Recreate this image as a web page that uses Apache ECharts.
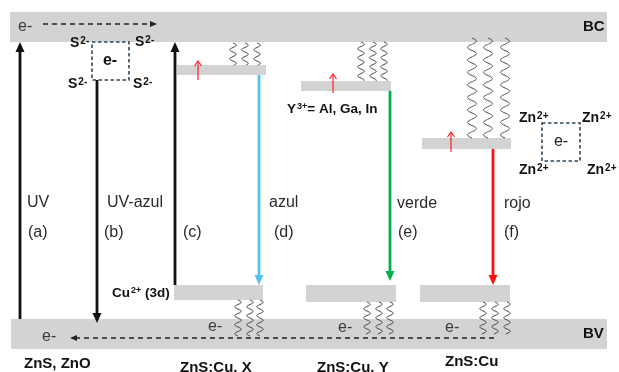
<!DOCTYPE html>
<html><head><meta charset="utf-8">
<script src="https://cdn.jsdelivr.net/npm/echarts@6/dist/echarts.min.js"></script>
<style>html,body{margin:0;padding:0;background:#fff}#c{width:619px;height:372px}</style>
</head><body><div id="c"></div>
<script>
// ---- Diagram data (diagram units: x across, y downward, 0..619 x 0..372) ----
// Bands: [x1, y1, x2, y2]
const bandNames = ['BC', 'BV'];
const bands = [[10, 12, 607, 42], [11, 319, 607, 349]];
// Impurity / activator levels: [x1, y1, x2, y2]
const levelNames = ['X-upper', 'Cu 3d (X)', 'Y-upper', 'Cu 3d (Y)', 'Cu-upper', 'Cu 3d'];
const levels = [
  [177, 65, 266, 75], [174, 285, 263, 300],
  [301, 81, 391, 91], [306, 285, 396, 302],
  [422, 138, 511, 149], [420, 285, 510, 302]
];
// Transitions: [x1, y1, x2, y2] (tail -> tip)
const transitionNames = ['a', 'b', 'c', 'd', 'e', 'f'];
const transitions = [
  [20, 319, 20, 42], [97, 80, 97, 323], [175, 285, 175, 42],
  [259, 75, 259, 285], [390, 91, 390, 281], [493, 149, 493, 285]
];
// Small trap arrows: [x1, y1, x2, y2]
const trapArrows = [[198, 80, 198, 61], [333, 93, 333, 74], [451, 152, 451, 132]];
// Electron migration (dashed): [x1, y1, x2, y2]
const migrations = [[43, 24, 157, 24], [494, 338, 70, 338]];
// Phonon (wavy) lines: [x, yTop, yBottom]
const phononGroups = ['small', 'small', 'small', 'small', 'small', 'small', 'small', 'small', 'small',
  'large', 'large', 'large', 'small', 'small', 'small', 'small', 'small', 'small'];
const phonons = [
  [233, 43, 65], [245, 43, 65], [257, 43, 65],
  [361, 42, 81], [373, 42, 81], [384, 42, 81],
  [238, 300, 336], [250, 300, 336], [260, 300, 336],
  [472, 38, 138], [488, 38, 138], [505, 38, 138],
  [367, 302, 334], [379, 302, 334], [390, 302, 334],
  [483, 302, 334], [495, 302, 334], [507, 302, 334]
];
// Vacancy boxes: [x1, y1, x2, y2]
const vacancies = [[92, 42, 129, 80], [542, 123, 580, 161]];
// Text labels: [x, y]
const labelTexts = ['e-', 'S{sup|2-}', 'S{sup|2-}', 'S{sup|2-}', 'S{sup|2-}', 'e-',
  'BC', 'BV', 'UV', '(a)', 'UV-azul', '(b)', '(c)', 'azul', '(d)', 'verde', '(e)', 'rojo', '(f)',
  'Y{sup|3+}= Al, Ga, In', 'Zn{sup|2+}', 'Zn{sup|2+}', 'Zn{sup|2+}', 'Zn{sup|2+}', 'e-',
  'Cu{sup|2+} (3d)', 'e-', 'e-', 'e-', 'e-',
  'ZnS, ZnO', 'ZnS:Cu, X', 'ZnS:Cu, Y', 'ZnS:Cu'];
const labelKinds = ['e', 'ion', 'ion', 'ion', 'ion', 'eBold',
  'band', 'band', 'tr', 'tr', 'tr', 'tr', 'tr', 'tr', 'tr', 'tr', 'tr', 'tr', 'tr',
  'small', 'ion', 'ion', 'ion', 'ion', 'eCenter',
  'small', 'e', 'e', 'e', 'e',
  'title', 'title', 'title', 'title'];
const labelPos = [
  [18, 27], [70, 43], [135, 42], [68, 84], [133, 84], [110, 61],
  [583, 27], [583, 334], [27, 203], [28, 233], [107, 203], [104, 233], [183, 233], [269, 203], [274, 233],
  [397, 204], [398, 233], [504, 204], [504, 233],
  [287, 109], [519, 118], [582, 118], [519, 170], [587, 170], [561, 142],
  [112, 293], [42, 337], [208, 327], [338, 328], [445, 328],
  [24, 364], [180, 368], [317, 368], [445, 362]
];

// ---- Styles ----
const FONT = '"Liberation Sans", Arial, sans-serif';
const transitionColors = {a: '#111', b: '#111', c: '#111', d: '#55C2F0', e: '#00B050', f: '#FF1010'};
const textStyles = {
  e: {fontSize: 16, fontWeight: 'normal', fill: '#3a3a3a', align: 'left'},
  eBold: {fontSize: 16, fontWeight: 'bold', fill: '#111', align: 'center'},
  eCenter: {fontSize: 16, fontWeight: 'normal', fill: '#222', align: 'center'},
  ion: {fontSize: 14, fontWeight: 'bold', fill: '#111', align: 'left'},
  band: {fontSize: 15, fontWeight: 'bold', fill: '#111', align: 'left'},
  tr: {fontSize: 16, fontWeight: 'normal', fill: '#2a2a2a', align: 'left'},
  small: {fontSize: 13.5, fontWeight: 'bold', fill: '#111', align: 'left'},
  title: {fontSize: 15, fontWeight: 'bold', fill: '#111', align: 'left'}
};
const phononStyle = {small: {amp: 3.3, period: 9}, large: {amp: 4.5, period: 12.5}};

function rectRender(fill) {
  return function (params, api) {
    const p1 = api.coord([api.value(0), api.value(1)]);
    const p2 = api.coord([api.value(2), api.value(3)]);
    return {type: 'rect', shape: {x: Math.min(p1[0], p2[0]), y: Math.min(p1[1], p2[1]),
      width: Math.abs(p2[0] - p1[0]), height: Math.abs(p2[1] - p1[1])}, style: {fill: fill}};
  };
}
function arrowRender(getColor, opts) {
  return function (params, api) {
    const a = api.coord([api.value(0), api.value(1)]);
    const b = api.coord([api.value(2), api.value(3)]);
    const dx = b[0] - a[0], dy = b[1] - a[1], L = Math.hypot(dx, dy);
    const ux = dx / L, uy = dy / L, px = -uy, py = ux;
    const base = [b[0] - ux * opts.hl, b[1] - uy * opts.hl];
    const color = getColor(params.dataIndex);
    const l = [base[0] + px * opts.hw / 2, base[1] + py * opts.hw / 2];
    const r = [base[0] - px * opts.hw / 2, base[1] - py * opts.hw / 2];
    const end = opts.open ? b : [base[0] + ux * 1, base[1] + uy * 1];
    const children = [{type: 'line', shape: {x1: a[0], y1: a[1], x2: end[0], y2: end[1]},
      style: {stroke: color, lineWidth: opts.lw, lineDash: opts.dash || null}}];
    if (opts.open) {
      children.push({type: 'polyline', shape: {points: [l, b, r]}, style: {stroke: color, lineWidth: opts.lw, fill: null}});
    } else {
      children.push({type: 'polygon', shape: {points: [l, b, r]}, style: {fill: color}});
    }
    return {type: 'group', children: children};
  };
}
function phononRender(params, api) {
  const top = api.coord([api.value(0), api.value(1)]);
  const bot = api.coord([api.value(0), api.value(2)]);
  const st = phononStyle[phononGroups[params.dataIndex]];
  const pts = [];
  for (let y = top[1]; y <= bot[1]; y += 0.5) {
    pts.push([top[0] + st.amp * Math.sin((y - top[1]) / st.period * 2 * Math.PI), y]);
  }
  return {type: 'polyline', shape: {points: pts}, style: {stroke: '#4a4a4a', lineWidth: 1, fill: null}};
}
function boxRender(params, api) {
  const p1 = api.coord([api.value(0), api.value(1)]);
  const p2 = api.coord([api.value(2), api.value(3)]);
  return {type: 'rect', shape: {x: p1[0], y: p1[1], width: p2[0] - p1[0], height: p2[1] - p1[1]},
    style: {fill: null, stroke: '#2F4858', lineWidth: 1.6, lineDash: [3.5, 2.5]}};
}
function textRender(params, api) {
  const p = api.coord([api.value(0), api.value(1)]);
  const s = textStyles[labelKinds[params.dataIndex]];
  return {type: 'text', x: p[0], y: p[1], style: {
    text: labelTexts[params.dataIndex], fill: s.fill, fontSize: s.fontSize, fontWeight: s.fontWeight,
    fontFamily: FONT, align: s.align, verticalAlign: 'middle',
    rich: {sup: {fontSize: Math.round(s.fontSize * 0.7), fontWeight: s.fontWeight, fontFamily: FONT,
      fill: s.fill, verticalAlign: 'top', padding: [0, 0, 0, 1]}}
  }};
}

const common = {type: 'custom', coordinateSystem: 'cartesian2d', clip: false, silent: true, animation: false};
const chart = echarts.init(document.getElementById('c'), null, {renderer: 'canvas'});
chart.setOption({
  animation: false,
  grid: {left: 0, right: 0, top: 0, bottom: 0},
  xAxis: {type: 'value', min: 0, max: 619, show: false},
  yAxis: {type: 'value', min: 0, max: 372, inverse: true, show: false},
  series: [
    Object.assign({}, common, {name: 'bands', data: bands, renderItem: rectRender('#D3D3D3'), encode: {x: [0, 2], y: [1, 3]}}),
    Object.assign({}, common, {name: 'levels', data: levels, renderItem: rectRender('#D3D3D3'), encode: {x: [0, 2], y: [1, 3]}}),
    Object.assign({}, common, {name: 'phonons', data: phonons, renderItem: phononRender, encode: {x: 0, y: [1, 2]}}),
    Object.assign({}, common, {name: 'migration', data: migrations,
      renderItem: arrowRender(() => '#222', {hl: 7, hw: 6, lw: 1.5, dash: [5, 4]}), encode: {x: [0, 2], y: [1, 3]}}),
    Object.assign({}, common, {name: 'transitions', data: transitions,
      renderItem: arrowRender(i => transitionColors[transitionNames[i]], {hl: 10, hw: 9, lw: 2.8}), encode: {x: [0, 2], y: [1, 3]}}),
    Object.assign({}, common, {name: 'traps', data: trapArrows,
      renderItem: arrowRender(() => '#FF2020', {hl: 5, hw: 7, lw: 1.2, open: true}), encode: {x: [0, 2], y: [1, 3]}}),
    Object.assign({}, common, {name: 'vacancies', data: vacancies, renderItem: boxRender, encode: {x: [0, 2], y: [1, 3]}}),
    Object.assign({}, common, {name: 'labels', data: labelPos, renderItem: textRender, encode: {x: 0, y: 1}})
  ]
});
</script></body></html>
